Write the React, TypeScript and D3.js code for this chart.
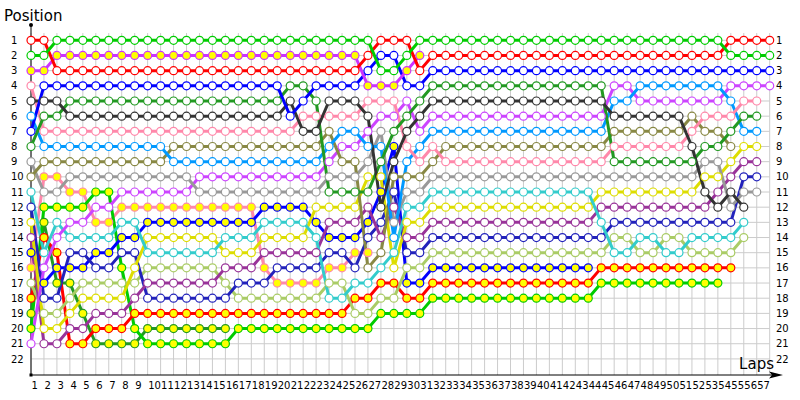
import React from "react";
import * as d3 from "d3";

// Lap index 0 = grid, 1..57 = laps. Positions per lap (array ends when the driver stops).
const red = [1,1, 3,3,3,3,3,3,3,3,3,3, 3,3,3,3,3,3,3,3,3,3, 3,3,3,3, 2,1,1,1,3, 2,2,2,2,2,2,2,2,2,2, 2,2,2,2,2,2,2,2,2,2, 2,2,2, 1,1,1,1];
const green = [2,2, 1,1,1,1,1,1,1,1,1,1, 1,1,1,1,1,1,1,1,1,1, 1,1,1,1,1, 3,3,2, 1,1,1,1,1,1,1,1,1,1, 1,1,1,1,1,1,1,1,1,1, 1,1,1,1, 2,2,2,2];
const purpleY = [3,3, 2,2,2,2,2,2,2,2,2,2, 2,2,2,2,2,2,2,2,2,2, 2,2,2,2, 4,4,4,3,2];
const blue = [7, 4,4,4,4,4,4,4,4,4,4, 4,4,4,4,4,4,4,4,4, 6,5, 4,4,4,4, 3,2,2,4,4, 3,3,3,3,3,3,3,3,3,3, 3,3,3,3,3,3,3,3,3,3, 3,3,3,3,3,3,3];
const dkgray = [5,5,5, 6,6,6,6,6,6,6,6,6,6, 6,6,6,6,6,6,6, 5,7,7,5,5,5,6,12,9,7,6, 5,5,5,5,5,5,5,5,5,5,5,5,5,5, 6,6,6,6,6,6, 8,11,12,11,12];
const dkgreen = [8,6,6, 5,5,5,5,5,5,5,5,5,5, 5,5,5,5,5,5,5, 4,4,5, 11,11,11,11, 9,7,6,5, 4,4,4,4,4,4,4,4,4,4,4,4,4,4, 9,9,9,9,9,9,9, 8,8,7,6,6];
const pink = [4, 7,7,7,7,7,7,7,7,7,7, 7,7,7,7,7,7,7,7,7,7, 6,6,6,6,6, 5,5,5,8,9,8, 9,9,9,9,9,9,9,9,9,9,9,9,9, 8,8,8,8,8,8, 7,6,6,6,5,5];
const lightblue = [6, 8,8,8,8,8,8,8,8,8,8, 9,9,9,9,9,9,9,9,9,9,9,9, 8,7,7,8,8,14,9,8, 7,7,7,7,7,7,7,7,7,7,7,7,7,7, 5,5, 4,4,4,4,4,4,4, 5,7,7];
const olive = [10, 9,9,9,9,9,9,9,9,9,9, 8,8,8,8,8,8,8,8,8,8,8,8, 7,9,9,16,15,10,10,10,9, 8,8,8,8,8,8,8,8,8,8,8,8,8, 7,7,7,7,7,7, 6,7,7,8];
const gray = [9,11,11, 10,10,10,10,10,10,10,10,10,10, 11,11,11,11,11,11,11,11,11,11, 10,10,10,9,7,13,11,11, 10,10,10,10,10,10,10,10,10,10,10,10,10,10,10,10,10,10,10,10,10, 9,9,12,11,11];
const violet = [21,16,14,13,13,12,12, 11,11,11,11,11,11, 10,10,10,10,10,10,10,10,10,10, 9,8,8,7,6,6,5,7, 6,6,6,6,6,6,6,6,6,6,6,6,6,6, 4,4, 5,5,5,5,5,5,5, 4,4,4,4];
const cyan = [11,15,13, 14,14,14,14, 13,13, 15,15,15,15,15,15, 14,14,14, 13,13,13,13, 14,18,18,17,17,16,15,12,12, 11,11,11,11,11,11,11,11,11,11,11,11,11, 13,15,15,14,14,15,15,14,14,14,14,13];
const yellow = [13,20,20,19, 18,18,18,18, 16, 14,14,14,14,14,14, 15,15,15, 14,14,14,14, 12,12,12,12, 10,10,16,13,13, 12,12,12,12,12,12,12,12,12,12,12,12,12, 11,11,11,11,11,11,11,11, 10,10,9,8,8];
const purple = [14,21,21,20,20, 19,19,19, 18, 17,17,17,17,17,17, 16,16,16, 15,15,15,15,15, 13,13,13, 12,14,12,14,14, 13,13,13,13,13,13,13,13,13,13,13,13,13, 12,12,12,12,12,12,12,12,12, 11,10,9,9];
const dkblue = [12,18,18,15,15,16,16,15,15, 18,18,18,18,18,18,18, 17,17,17, 16,16,16,16, 15,15,16,14,13,11,15,15, 14,14,14,14,14,14,14,14,14,14,14,14,14,14, 13,13,13,13,13,13,13,13,13,13, 10,10];
const lightolive = [17,19,19,18, 17,17,17,17,17, 16,16,16,16,16,16, 17, 18,18,18,18,18,18,18, 17,17,19,19,18,18,16,16, 15,15,15,15,15,15,15,15,15,15,15,15,15,15, 14,14,15,15,14,14, 15,15,15,15, 14];
const blueY = [15,17,16,16,16,15,15,14,14, 13,13,13,13,13,13,13,13,13, 12,12,12,12, 13,14,14,14,13,11,8,17,17, 16,16,16,16,16,16,16,16,16,16,16,16,16];
const redY = [18,14,15,21,21,20,20,20, 19,19,19,19,19,19,19,19,19,19,19,19,19,19,19,19,19, 18,18,17,17,18,18, 17,17,17,17,17,17,17,17,17,17,17,17,17, 16,16,16,16,16,16,16,16,16,16,16];
const greenY = [20,12,12,12,12,11,11,16,20, 21,21,21,21,21,21,21, 20,20,20,20,20,20,20,20,20,20,20, 19,19,19,19, 18,18,18,18,18,18,18,18,18,18,18,18,18, 17,17,17,17,17,17,17,17,17,17];
const dkgreenY = [19,13,17,17,19,21,21,21,21, 20,20,20,20,20,20,20];
const pinkY = [16,10,10,11,11,13,13, 12,12,12,12,12,12,12,12,12,12,12, 16,17,17,17,17,16,16,15,15];

const series = [
  { name: "dkgreenY", pos: dkgreenY, color: "#229922", fill: "#ffff00" },
  { name: "pinkY", pos: pinkY, color: "#ff88aa", fill: "#ffff00" },
  { name: "greenY", pos: greenY, color: "#00cc00", fill: "#ffff00" },
  { name: "redY", pos: redY, color: "#ff0000", fill: "#ffff00" },
  { name: "blueY", pos: blueY, color: "#0000ff", fill: "#ffff00" },
  { name: "lightolive", pos: lightolive, color: "#aacc66", fill: "#ffffff" },
  { name: "dkblue", pos: dkblue, color: "#2222bb", fill: "#ffffff" },
  { name: "purple", pos: purple, color: "#993399", fill: "#ffffff" },
  { name: "yellow", pos: yellow, color: "#dddd00", fill: "#ffffff" },
  { name: "cyan", pos: cyan, color: "#33cccc", fill: "#ffffff" },
  { name: "violet", pos: violet, color: "#cc44ff", fill: "#ffffff" },
  { name: "gray", pos: gray, color: "#999999", fill: "#ffffff" },
  { name: "olive", pos: olive, color: "#888844", fill: "#ffffff" },
  { name: "lightblue", pos: lightblue, color: "#0099ff", fill: "#ffffff" },
  { name: "pink", pos: pink, color: "#ff88aa", fill: "#ffffff" },
  { name: "dkgreen", pos: dkgreen, color: "#229922", fill: "#ffffff" },
  { name: "dkgray", pos: dkgray, color: "#333333", fill: "#ffffff" },
  { name: "blue", pos: blue, color: "#0000ff", fill: "#ffffff" },
  { name: "purpleY", pos: purpleY, color: "#cc33ff", fill: "#ffff00" },
  { name: "red", pos: red, color: "#ff0000", fill: "#ffffff" },
  { name: "green", pos: green, color: "#00cc00", fill: "#ffffff" },
];

const lapTicks = d3.range(1, 58);
const positionTicks = d3.range(1, 23);

export default function App() {
  const W = 800, H = 400;
  const x = d3.scaleLinear().domain([0, 57]).range([31, 769.7]);
  const y = d3.scaleLinear().domain([1, 22]).range([40.3, 358.9]);
  const axisY = 375;
  const font = "DejaVu Sans, Verdana, sans-serif";
  const line = d3.line<number>().x((_, i) => x(i)).y((d) => y(d));

  return (
    <div style={{ position: "absolute", left: 0, top: 0 }}>
      <svg width={W} height={H} style={{ display: "block", background: "#fff" }}>
        {/* grid */}
        <g stroke="#cccccc" strokeWidth={1}>
          {d3.range(0, 58).map((k) => (
            <line key={"v" + k} x1={x(k)} x2={x(k)} y1={33} y2={axisY} />
          ))}
          {positionTicks.map((p) => (
            <line key={"h" + p} x1={x(0)} x2={x(57)} y1={y(p)} y2={y(p)} />
          ))}
        </g>
        {/* axes */}
        <line x1={x(0)} x2={x(0)} y1={25} y2={axisY} stroke="#000" strokeWidth={1} />
        <circle cx={x(0)} cy={25} r={2} fill="#000" />
        <line x1={x(0)} x2={772} y1={axisY} y2={axisY} stroke="#000" strokeWidth={1} />
        <path d={`M 783 ${axisY} L 769 ${axisY - 3.5} L 772 ${axisY} L 769 ${axisY + 3.5} Z`} fill="#000" />
        <rect x={x(0) - 1.5} y={axisY - 1.5} width={3} height={3} fill="#000" />
        {/* titles */}
        <text x={4} y={21} fontFamily={font} fontSize={15} fill="#000">Position</text>
        <text x={774} y={369} textAnchor="end" fontFamily={font} fontSize={15} fill="#000">Laps</text>
        {/* position labels */}
        {positionTicks.map((p) => (
          <g key={"pl" + p}>
            <text x={11} y={y(p) + 3.6} fontFamily={font} fontSize={10} fill="#000">{p}</text>
            <text x={776} y={y(p) + 3.6} fontFamily={font} fontSize={10} fill="#000">{p}</text>
          </g>
        ))}
        {/* lap labels */}
        {lapTicks.map((l) => (
          <text key={"ll" + l} x={x(l - 1) + 0.5} y={389} fontFamily={font} fontSize={10} fill="#000">{l}</text>
        ))}
        {/* series lines */}
        {series.map((s) => (
          <path key={"l" + s.name} d={line(s.pos) || ""} fill="none" stroke={s.color} strokeWidth={3} strokeLinejoin="round" />
        ))}
        {/* markers */}
        {series.map((s) => (
          <g key={"m" + s.name}>
            {s.pos.map((p, i) => (
              <circle key={i} cx={x(i)} cy={y(p)} r={4} fill={s.fill} stroke={s.color} strokeWidth={1.2} />
            ))}
          </g>
        ))}
      </svg>
    </div>
  );
}
